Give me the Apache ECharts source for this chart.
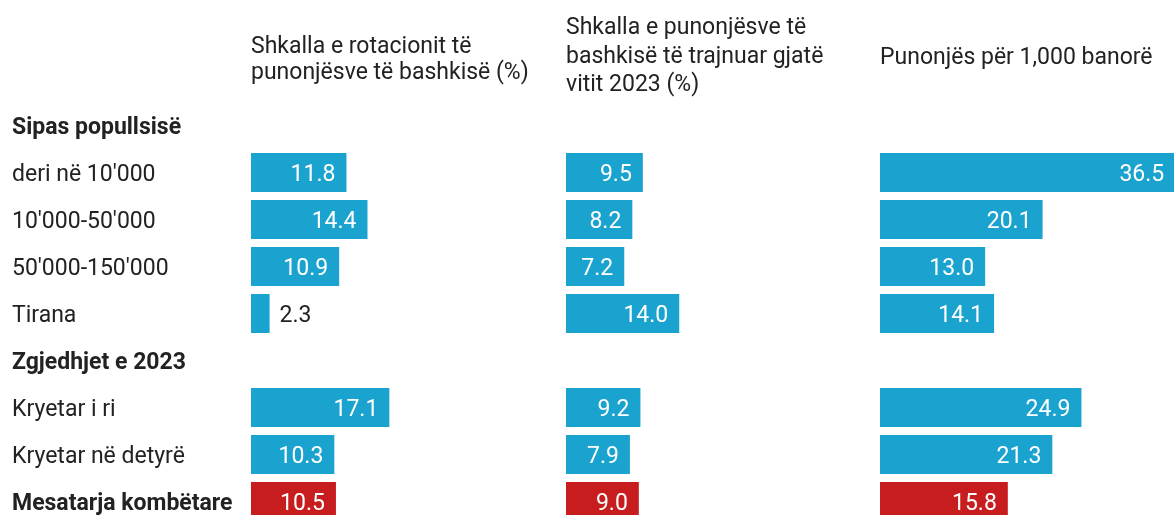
<!DOCTYPE html>
<html>
<head>
<meta charset="utf-8">
<script src="https://cdn.jsdelivr.net/npm/echarts@6/dist/echarts.min.js"></script>
<style>
  html, body { margin: 0; padding: 0; background: #fff; }
  #chart { width: 1174px; height: 515px; }
</style>
</head>
<body>
<div id="chart"></div>
<script>
// rows (headers have no bars)
const categories = [
  "Sipas popullsisë",
  "deri në 10'000",
  "10'000-50'000",
  "50'000-150'000",
  "Tirana",
  "Zgjedhjet e 2023",
  "Kryetar i ri",
  "Kryetar në detyrë",
  "Mesatarja kombëtare"
];
const boldRows = ["Sipas popullsisë", "Zgjedhjet e 2023", "Mesatarja kombëtare"];
const averageRow = "Mesatarja kombëtare";

const panelTitles = [
  "Shkalla e rotacionit të\npunonjësve të bashkisë (%)",
  "Shkalla e punonjësve të\nbashkisë të trajnuar gjatë\nvitit 2023 (%)",
  "Punonjës për 1,000 banorë"
];

const rotationRate = [null, 11.8, 14.4, 10.9, 2.3, null, 17.1, 10.3, 10.5];
const trainedRate = [null, 9.5, 8.2, 7.2, 14.0, null, 9.2, 7.9, 9.0];
const staffPer1000 = [null, 36.5, 20.1, 13.0, 14.1, null, 24.9, 21.3, 15.8];

const BLUE = "#1ba3cf";
const RED = "#c71d1e";
const TEXT = "#222";
const FONT = "Roboto";
const FS = 23;

const panelLeft = [251, 566, 880];
const pxPerUnit = 8.09;
const axisMax = 40;

const chart = echarts.init(document.getElementById("chart"));

const makeData = (values) =>
  values.map((v, i) => {
    if (v == null) return null;
    const item = {
      value: v,
      itemStyle: { color: categories[i] === averageRow ? RED : BLUE }
    };
    // too short for the number inside
    if (v * pxPerUnit < 40) {
      item.label = { position: "right", color: TEXT, distance: 10 };
    }
    return item;
  });

const allValues = [rotationRate, trainedRate, staffPer1000];

chart.setOption({
  animation: false,
  title: [
    { text: panelTitles[0], left: panelLeft[0], top: 34, padding: 0,
      textStyle: { fontFamily: FONT, fontSize: FS, fontWeight: "normal", color: TEXT, lineHeight: 26 } },
    { text: panelTitles[1], left: panelLeft[1], top: 14, padding: 0,
      textStyle: { fontFamily: FONT, fontSize: FS, fontWeight: "normal", color: TEXT, lineHeight: 28.5 } },
    { text: panelTitles[2], left: panelLeft[2], top: 44, padding: 0,
      textStyle: { fontFamily: FONT, fontSize: FS, fontWeight: "normal", color: TEXT, lineHeight: 28 } }
  ],
  grid: panelLeft.map((l) => ({
    left: l, top: 102, height: 423, width: axisMax * pxPerUnit,
    outerBoundsMode: "none"
  })),
  xAxis: panelLeft.map((l, i) => ({
    gridIndex: i, type: "value", min: 0, max: axisMax, show: false
  })),
  yAxis: panelLeft.map((l, i) => ({
    gridIndex: i,
    type: "category",
    inverse: true,
    data: categories,
    axisLine: { show: false },
    axisTick: { show: false },
    splitLine: { show: false },
    axisLabel: i === 0 ? {
      show: true,
      align: "left",
      margin: panelLeft[0] - 12,
      padding: [5, 0, 0, 0],
      fontFamily: FONT,
      fontSize: FS,
      color: TEXT,
      formatter: (v) => (boldRows.includes(v) ? "{b|" + v + "}" : v),
      rich: { b: { fontFamily: FONT, fontSize: FS, fontWeight: "bold", color: TEXT } }
    } : { show: false }
  })),
  series: allValues.map((vals, i) => ({
    type: "bar",
    xAxisIndex: i,
    yAxisIndex: i,
    barWidth: 39,
    data: makeData(vals),
    label: {
      show: true,
      position: "insideRight",
      distance: 11,
      offset: [0, 2.5],
      color: "#fff",
      fontFamily: FONT,
      fontSize: FS,
      formatter: (p) => p.value.toFixed(1)
    }
  }))
});
</script>
</body>
</html>
